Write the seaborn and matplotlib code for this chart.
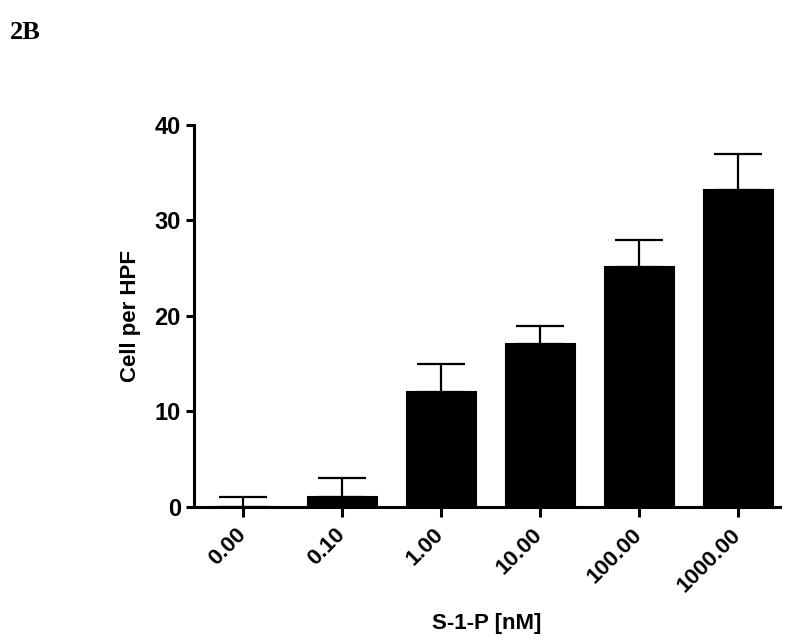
import numpy as np
import pandas as pd
import matplotlib
matplotlib.use('Agg')
import matplotlib.pyplot as plt
import matplotlib.transforms as mtransforms
import seaborn as sns

# values
concentrations = ['0.00', '0.10', '1.00', '10.00', '100.00', '1000.00']
cells_per_hpf = [0.0, 1.0, 12.0, 17.1, 25.1, 33.2]
sem_upper = [1.0, 2.0, 3.0, 1.9, 2.9, 3.8]

sns.set_style('ticks', {'axes.edgecolor': 'black', 'text.color': 'black',
                        'xtick.color': 'black', 'ytick.color': 'black',
                        'axes.labelcolor': 'black'})
plt.rcParams['font.family'] = ['Liberation Sans', 'DejaVu Sans']
plt.rcParams['font.weight'] = 'bold'

df = pd.DataFrame({'conc': concentrations, 'cells': cells_per_hpf})

fig = plt.figure(figsize=(8, 6.42), dpi=100)
ax = fig.add_axes([0.2425, 0.2103, 0.7325, 0.595])

sns.barplot(data=df, x='conc', y='cells', color='black', width=0.7,
            errorbar=None, saturation=1, ax=ax)
for p in ax.patches:
    p.set_edgecolor('black')
    p.set_linewidth(1.5)

# one-sided error bars (upper only)
xpos = np.arange(len(concentrations))
ax.errorbar(xpos, cells_per_hpf, yerr=[np.zeros(len(sem_upper)), sem_upper],
            fmt='none', ecolor='black', elinewidth=1.6, capsize=17, capthick=1.6,
            zorder=1)

ax.set_ylim(0, 40)
ax.set_xlim(-0.5, 5.42)
sns.despine(ax=ax)
for s in ['left', 'bottom']:
    ax.spines[s].set_linewidth(2.2)
ax.tick_params(axis='both', width=2.2, length=7, color='black')
ax.tick_params(axis='y', length=6)
ax.set_xticks(xpos)
ax.set_xticklabels(concentrations, rotation=45, ha='right',
                   rotation_mode='anchor', fontsize=16, fontweight='bold',
                   family='Liberation Sans')
ax.set_yticks([0, 10, 20, 30, 40])
ax.set_yticklabels(['0', '10', '20', '30', '40'], fontsize=17,
                   fontweight='bold', family='Liberation Sans')

# nudge rotated labels a little left, like the original
shift = mtransforms.ScaledTranslation(-6 / 72, -2 / 72, fig.dpi_scale_trans)
for lbl in ax.get_xticklabels():
    lbl.set_transform(lbl.get_transform() + shift)

ax.set_xlabel('S-1-P [nM]', fontsize=16, fontweight='bold', labelpad=12)
ax.set_ylabel('Cell per HPF', fontsize=16, fontweight='bold', labelpad=10)

fig.text(0.012, 0.95, '2B', fontsize=19, fontweight='bold',
         family=['Liberation Serif', 'DejaVu Serif'], va='center')

fig.savefig('out.png', dpi=100)
